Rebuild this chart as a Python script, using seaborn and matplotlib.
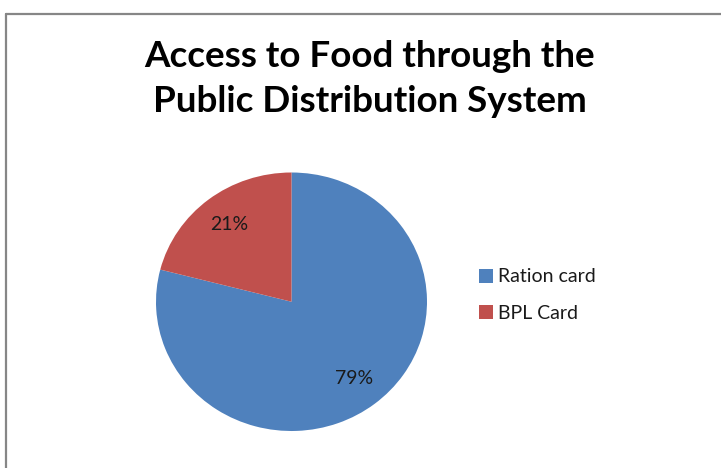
import matplotlib
matplotlib.use("Agg")
import matplotlib.pyplot as plt
from matplotlib.lines import Line2D
import seaborn as sns

# Chart data
categories = ["Ration card", "BPL Card"]
shares = [79, 21]
title_lines = ["Access to Food through the", "Public Distribution System"]

sns.set_theme(style="white")
plt.rcParams["font.family"] = ["Lato", "DejaVu Sans"]

colors = ["#4F81BD", "#C0504D"]

W, H = 721, 468
fig = plt.figure(figsize=(W / 100, H / 100), dpi=100)
fig.patch.set_facecolor("white")

# Pie area in pixel coordinates (left, top, right, bottom)
px_l, px_t, px_r, px_b = 156, 172.5, 427, 431
ax = fig.add_axes([px_l / W, 1 - px_b / H, (px_r - px_l) / W, (px_b - px_t) / H])

wedges, texts, autotexts = ax.pie(
    shares,
    colors=colors,
    startangle=90,
    counterclock=False,
    autopct=lambda p: f"{p:.0f}%",
    pctdistance=0.755,
    radius=1.0,
    wedgeprops=dict(linewidth=0),
    textprops=dict(fontsize=14, color="#1a1a1a"),
)
ax.set_aspect("auto")
ax.set_xlim(-1, 1)
ax.set_ylim(-1, 1)
ax.axis("off")

# Two-line title, each line placed on its own baseline
for line, baseline_px in zip(title_lines, [67, 112]):
    fig.text(370 / W, 1 - baseline_px / H, line, ha="center", va="baseline",
             fontsize=26.5, fontweight="bold", color="black")

# Legend
leg = fig.legend(
    wedges, categories,
    loc="center left",
    bbox_to_anchor=(469 / W, 1 - 295 / H),
    frameon=False,
    fontsize=14,
    handlelength=0.75,
    handleheight=0.75,
    handletextpad=0.25,
    labelspacing=0.98,
    borderpad=0,
)
for t in leg.get_texts():
    t.set_color("#1a1a1a")

# Chart-area border (top and left edges visible)
border_color = "#868686"
fig.add_artist(Line2D([6 / W, 1.02], [1 - 14 / H, 1 - 14 / H],
                      transform=fig.transFigure, color=border_color, linewidth=1.6))
fig.add_artist(Line2D([6 / W, 6 / W], [1 - 14 / H, -0.02],
                      transform=fig.transFigure, color=border_color, linewidth=1.6))

fig.savefig("out.png", dpi=100, facecolor="white")
